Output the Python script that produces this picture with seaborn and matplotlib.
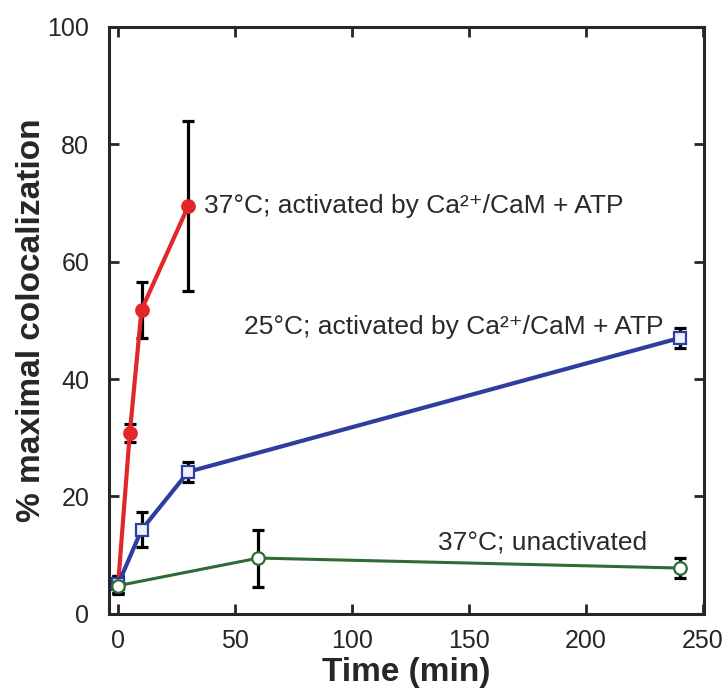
import matplotlib
matplotlib.use('Agg')
import matplotlib.pyplot as plt
import seaborn as sns
import pandas as pd

# Datos (tiempo en min, % colocalización, error)
t_37_act = [0, 5, 10, 30]
y_37_act = [5.0, 30.8, 51.8, 69.5]
e_37_act = [1.5, 1.5, 4.8, 14.5]

t_25_act = [0, 10, 30, 240]
y_25_act = [5.0, 14.3, 24.2, 47.0]
e_25_act = [1.5, 3.0, 1.7, 1.7]

t_37_unact = [0, 60, 240]
y_37_unact = [4.8, 9.5, 7.8]
e_37_unact = [1.5, 4.85, 1.7]

etiquetas = ['37°C; activated by Ca²⁺/CaM + ATP',
             '25°C; activated by Ca²⁺/CaM + ATP',
             '37°C; unactivated']

sns.set_style('ticks')
plt.rcParams['font.family'] = ['Liberation Sans', 'DejaVu Sans']

fig = plt.figure(figsize=(7.25, 6.92), dpi=100)
ax = fig.add_axes([0.150, 0.113, 0.821, 0.848])

series = [
    (t_37_act, y_37_act, e_37_act, '#e3262a', 'o', '#e3262a', 3.0, 9),
    (t_25_act, y_25_act, e_25_act, '#2f3da3', 's', '#eef1fb', 3.0, 9),
    (t_37_unact, y_37_unact, e_37_unact, '#2e6a33', 'o', 'white', 2.2, 9),
]

for t, y, e, color, marker, mfc, lw, ms in series:
    df = pd.DataFrame({'Tiempo': t, 'Valor': y})
    ax.errorbar(t, y, yerr=e, fmt='none', ecolor='black', elinewidth=2.3,
                capsize=4.5, capthick=2.3, zorder=2)
    sns.lineplot(data=df, x='Tiempo', y='Valor', ax=ax, color=color, linewidth=lw,
                 marker=marker, markersize=ms, markerfacecolor=mfc,
                 markeredgecolor=color, markeredgewidth=1.6, zorder=3)

ax.text(36.5, 69.5, etiquetas[0], fontsize=19, color='#2a2a2a', ha='left', va='center')
ax.text(233, 48.9, etiquetas[1], fontsize=19, color='#2a2a2a', ha='right', va='center')
ax.text(226, 12.1, etiquetas[2], fontsize=19, color='#2a2a2a', ha='right', va='center')

ax.set_xlim(-4, 250.4)
ax.set_ylim(0, 100)
ax.set_xticks([0, 50, 100, 150, 200, 250])
ax.set_yticks([0, 20, 40, 60, 80, 100])
ax.tick_params(direction='in', length=7, width=2, top=True, right=True, labelsize=18)
ax.tick_params(axis='x', pad=11)
ax.tick_params(axis='y', pad=14)
for s in ax.spines.values():
    s.set_linewidth(2.2)
ax.set_xlabel('Time (min)', fontsize=24, fontweight='bold', labelpad=3)
ax.set_ylabel('% maximal colocalization', fontsize=24, fontweight='bold', labelpad=0)

fig.savefig('out.png', dpi=100)
